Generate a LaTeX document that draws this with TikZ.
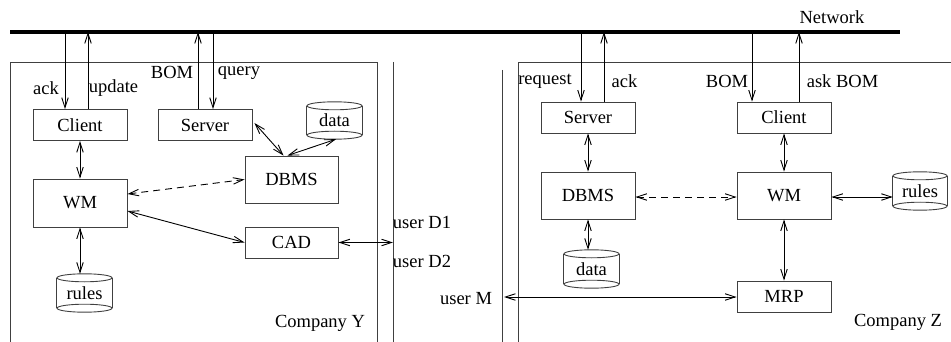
\documentclass[tikz,border=0pt]{standalone}
\usepackage{fontspec}
\setmainfont{Liberation Serif}
\usetikzlibrary{arrows.meta}
\newcommand{\mycyl}[6]{%
  \node[minimum width=#4pt, minimum height=#5pt, inner sep=0pt] (#1) at (#2,#3) {#6};
  \draw[frame] ([yshift=-4pt]#1.north) ellipse [x radius=#4pt/2, y radius=4pt];
  \draw[frame] ([yshift=4pt]#1.south) ellipse [x radius=#4pt/2, y radius=4pt];
  \draw[frame] ([yshift=-4pt]#1.north west) -- ([yshift=4pt]#1.south west);
  \draw[frame] ([yshift=-4pt]#1.north east) -- ([yshift=4pt]#1.south east);
}
\begin{document}
\begin{tikzpicture}[x=1pt,y=-1pt,
  every node/.style={font=\fontsize{18.5}{20}\selectfont},
  frame/.style={draw=black!75, line width=0.9pt},
  box/.style={frame, minimum width=94pt, inner sep=0pt},
  conn/.style={line width=0.9pt, {Straight Barb[length=10pt,width=6.5pt]}-{Straight Barb[length=10pt,width=6.5pt]}},
  one/.style={line width=0.9pt, -{Straight Barb[length=10pt,width=6.5pt]}},
  lbl/.style={inner sep=0pt}]
\useasboundingbox (0,0) rectangle (951,342);
% network
\draw[line width=3.5pt] (10,32) -- (900,32);
\node[lbl] (net) at (832,17) {Network};
% frames
\draw[frame] (10,342) -- (10,62) -- (377,62) -- (377,342);
\draw[frame] (393,62) -- (393,342);
\draw[frame] (502,70) -- (502,342);
\draw[frame] (518,342) -- (518,62) -- (951,62);
% Company Y nodes
\node[box, minimum height=31pt] (ClientY) at (80,125) {Client};
\node[box, minimum height=31pt] (ServerY) at (205,125) {Server};
\node[box, minimum width=93pt, minimum height=47pt] (DBMSY) at (291.5,179.5) {DBMS};
\node[box, minimum height=48pt] (WMY) at (80,203) {WM};
\node[box, minimum width=93pt, minimum height=31pt] (CADY) at (291.5,242.5) {CAD};
\mycyl{dataY}{334.5}{120.5}{55}{37}{data}
\mycyl{rulesY}{84.5}{293}{55}{38}{rules}
% Company Z nodes
\node[box, minimum height=31pt] (ServerZ) at (588,117.5) {Server};
\node[box, minimum height=31pt] (ClientZ) at (784,117.5) {Client};
\node[box, minimum height=47pt] (DBMSZ) at (588,195.5) {DBMS};
\node[box, minimum height=47pt] (WMZ) at (784,195.5) {WM};
\node[box, minimum height=31pt] (MRPZ) at (784,296.5) {MRP};
\mycyl{rulesZ}{920}{191}{54}{38}{rules}
\mycyl{dataZ}{591.5}{269}{55}{38}{data}
% network points
\coordinate (nA) at (65,32);
\coordinate (nU) at (88,32);
\coordinate (nB) at (198,32);
\coordinate (nQ) at (213,32);
\coordinate (nR) at (581,32);
\coordinate (nK) at (604,32);
\coordinate (nM) at (752,32);
\coordinate (nS) at (799,32);
\coordinate (uD) at (393,242.5);
\coordinate (uM) at (504,297);
% Company Y connectors
\draw[one] (nA) -- (nA |- ClientY.north);
\draw[one] (nU |- ClientY.north) -- (nU);
\draw[one] (nB |- ServerY.north) -- (nB);
\draw[one] (nQ) -- (nQ |- ServerY.north);
\draw[conn] (ClientY.south) -- (WMY.north);
\draw[conn] ([xshift=2pt,yshift=2pt]ServerY.east) -- ([xshift=-8pt]DBMSY.north);
\draw[conn] ([xshift=-4pt]DBMSY.north) -- ([xshift=1.5pt]dataY.south);
\draw[conn, dashed, dash pattern=on 7pt off 5pt] ([yshift=9pt]WMY.east) -- (DBMSY.west);
\draw[conn] ([yshift=-8pt]WMY.east) -- (CADY.west);
\draw[conn] (WMY.south) -- (WMY.south |- rulesY.north);
\draw[conn] (CADY.east) -- (CADY.east -| uD);
% Company Z connectors
\draw[one] (nR) -- (nR |- ServerZ.north);
\draw[one] (nK |- ServerZ.north) -- (nK);
\draw[one] (nM) -- (nM |- ClientZ.north);
\draw[one] (nS |- ClientZ.north) -- (nS);
\draw[conn] (ServerZ.south) -- (DBMSZ.north);
\draw[conn] (ClientZ.south) -- (WMZ.north);
\draw[conn, dashed, dash pattern=on 7pt off 5pt] ([yshift=-1.5pt]DBMSZ.east) -- ([yshift=-1.5pt]WMZ.west);
\draw[conn] ([yshift=-1.5pt]WMZ.east) -- ([yshift=-1.5pt]WMZ.east -| rulesZ.west);
\draw[conn] (DBMSZ.south) -- (DBMSZ.south |- dataZ.north);
\draw[conn] (WMZ.south) -- (MRPZ.north);
\draw[conn] (uM) -- (uM -| MRPZ.west);
% labels
\node[lbl] (l1) at (46,88) {ack};
\node[lbl] (l2) at (113.5,88) {update};
\node[lbl] (l3) at (172,72) {BOM};
\node[lbl] (l4) at (239,73) {query};
\node[lbl] (l5) at (545,81) {request};
\node[lbl] (l6) at (624.5,81) {ack};
\node[lbl] (l7) at (727,81) {BOM};
\node[lbl] (l8) at (842.5,81) {ask BOM};
\node[lbl] (l9) at (422,222) {user D1};
\node[lbl] (l10) at (422,261) {user D2};
\node[lbl] (l11) at (466,299) {user M};
\node[lbl] (l12) at (320,323) {Company Y};
\node[lbl] (l13) at (898,322) {Company Z};
\end{tikzpicture}
\end{document}
